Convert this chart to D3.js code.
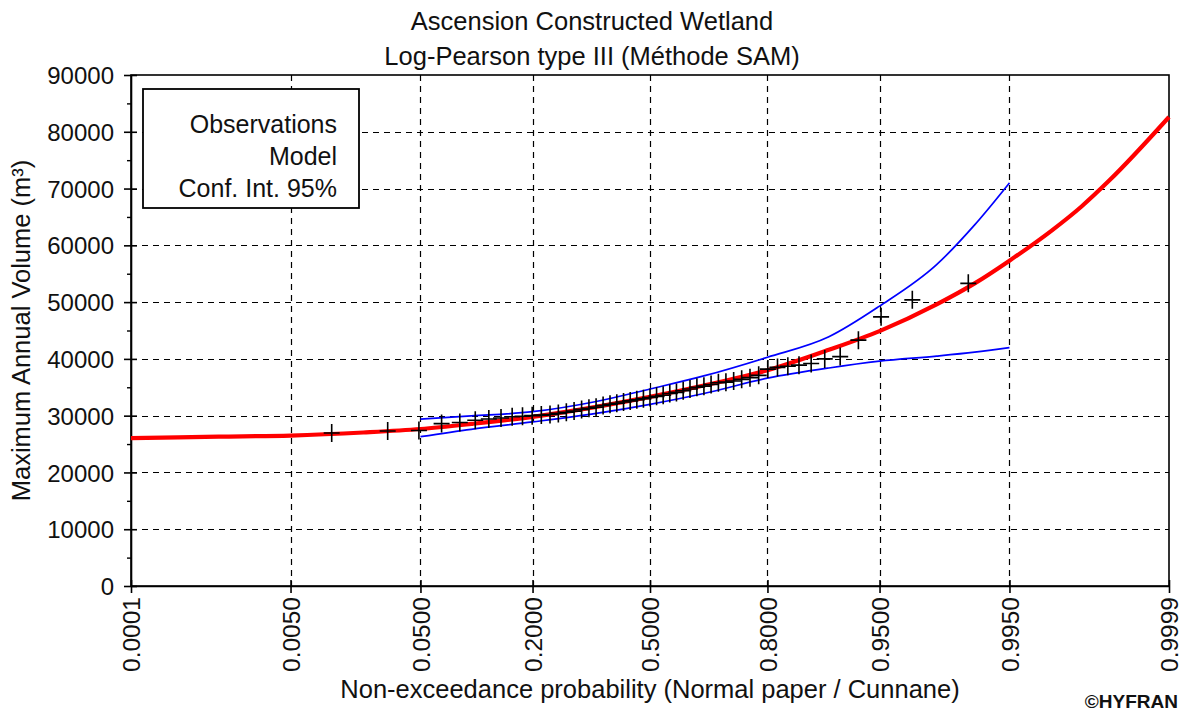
<!DOCTYPE html>
<html>
<head>
<meta charset="utf-8">
<script src="https://cdn.jsdelivr.net/npm/d3@7"></script>
<style>
  html, body { margin: 0; padding: 0; background: #fff; }
  svg { display: block; }
  text { font-family: "Liberation Sans", Arial, sans-serif; fill: #111; }
</style>
</head>
<body>
<svg id="chart" width="1185" height="714"></svg>
<script>
// ---------------- data ----------------
const titleLines = ["Ascension Constructed Wetland", "Log-Pearson type III (Méthode SAM)"];
const xAxisTitle = "Non-exceedance probability (Normal paper / Cunnane)";
const yAxisTitle = "Maximum Annual Volume (m³)";
const legendLabels = ["Observations", "Model", "Conf. Int. 95%"];

const xTickProbs = [0.0001, 0.005, 0.05, 0.2, 0.5, 0.8, 0.95, 0.995, 0.9999];
const xTickLabels = ["0.0001", "0.0050", "0.0500", "0.2000", "0.5000", "0.8000", "0.9500", "0.9950", "0.9999"];
const yTickValues = [0, 10000, 20000, 30000, 40000, 50000, 60000, 70000, 80000, 90000];

// fitted model (Log-Pearson III)
const modelProb  = [0.0001, 0.001, 0.005, 0.02, 0.05, 0.1, 0.2, 0.35, 0.5, 0.65, 0.8, 0.9, 0.95, 0.98, 0.99, 0.995, 0.998, 0.999, 0.9995, 0.9999];
const modelValue = [26050, 26300, 26500, 27040, 27650, 28540, 29800, 31550, 33300, 35300, 38000, 41600, 44900, 49600, 53300, 57300, 62600, 66800, 71400, 82600];

// 95% confidence interval
const ciProb  = [0.05, 0.1, 0.2, 0.35, 0.5, 0.65, 0.8, 0.9, 0.95, 0.98, 0.99, 0.995];
const ciUpper = [29400, 29950, 30700, 32500, 34700, 37000, 40300, 43900, 49300, 56600, 63600, 71000];
const ciLower = [26300, 27600, 28900, 30400, 32000, 33900, 36600, 38400, 39600, 40500, 41200, 42000];

// observations, sorted (m3)
const obsValues = [26950, 27300, 27400, 28600, 28800, 29200, 29400, 29600, 29800, 29900,
                   30000, 30100, 30200, 30400, 30600, 30800, 31100, 31300, 31500, 31800,
                   32000, 32200, 32400, 32600, 32800, 33000, 33200, 33400, 33600, 33900,
                   34100, 34400, 34700, 35000, 35200, 35500, 35800, 35900, 36100, 36400,
                   36700, 37100, 38200, 38500, 38700, 38900, 39200, 40000, 40400, 43300,
                   47400, 50400, 53300];

// ---------------- helpers ----------------
// inverse standard normal CDF (normal probability paper)
function qnorm(p) {
  const a = [-3.969683028665376e+01, 2.209460984245205e+02, -2.759285104469687e+02, 1.383577518672690e+02, -3.066479806614716e+01, 2.506628277459239e+00];
  const b = [-5.447609879822406e+01, 1.615858368580409e+02, -1.556989798598866e+02, 6.680131188771972e+01, -1.328068155288572e+01];
  const c = [-7.784894002430293e-03, -3.223964580411365e-01, -2.400758277161838e+00, -2.549732539343734e+00, 4.374664141464968e+00, 2.938163982698783e+00];
  const d = [7.784695709041462e-03, 3.224671290700398e-01, 2.445134137142996e+00, 3.754408661907416e+00];
  const pl = 0.02425;
  if (p < pl) {
    const q = Math.sqrt(-2 * Math.log(p));
    return (((((c[0]*q+c[1])*q+c[2])*q+c[3])*q+c[4])*q+c[5]) / ((((d[0]*q+d[1])*q+d[2])*q+d[3])*q+1);
  }
  if (p > 1 - pl) {
    const q = Math.sqrt(-2 * Math.log(1 - p));
    return -(((((c[0]*q+c[1])*q+c[2])*q+c[3])*q+c[4])*q+c[5]) / ((((d[0]*q+d[1])*q+d[2])*q+d[3])*q+1);
  }
  const q = p - 0.5, r = q * q;
  return (((((a[0]*r+a[1])*r+a[2])*r+a[3])*r+a[4])*r+a[5])*q / (((((b[0]*r+b[1])*r+b[2])*r+b[3])*r+b[4])*r+1);
}

// ---------------- layout ----------------
const W = 1185, H = 714;
const plot = { left: 131, top: 75, right: 1169, bottom: 586 };

const svg = d3.select("#chart");

const xz = d3.scaleLinear()
  .domain([qnorm(xTickProbs[0]), qnorm(xTickProbs[xTickProbs.length - 1])])
  .range([plot.left, plot.right]);
const xp = p => xz(qnorm(p));
const y = d3.scaleLinear().domain([0, 90000]).range([plot.bottom, plot.top]);

// grid
const grid = svg.append("g").attr("stroke", "#000").attr("stroke-width", 1.2).attr("stroke-dasharray", "6,5");
grid.selectAll("line.gx").data(xTickProbs.slice(1, -1)).join("line")
  .attr("x1", d => Math.round(xp(d)) + 0.5).attr("x2", d => Math.round(xp(d)) + 0.5)
  .attr("y1", plot.top).attr("y2", plot.bottom);
grid.selectAll("line.gy").data(yTickValues.slice(1, -1)).join("line")
  .attr("x1", plot.left).attr("x2", plot.right)
  .attr("y1", d => Math.round(y(d)) + 0.5).attr("y2", d => Math.round(y(d)) + 0.5);

// frame
svg.append("rect")
  .attr("x", plot.left).attr("y", plot.top)
  .attr("width", plot.right - plot.left).attr("height", plot.bottom - plot.top)
  .attr("fill", "none").attr("stroke", "#000").attr("stroke-width", 1.6);

// axes
const xAxis = d3.axisBottom(xz)
  .tickValues(xTickProbs.map(qnorm))
  .tickFormat((d, i) => xTickLabels[i])
  .tickSizeInner(7).tickSizeOuter(0);
const gx = svg.append("g").attr("transform", `translate(0,${plot.bottom})`).call(xAxis);
gx.select(".domain").attr("stroke", "#000").attr("stroke-width", 1.6);
gx.selectAll(".tick line").attr("y1", -6).attr("stroke", "#000").attr("stroke-width", 1.6);
gx.selectAll(".tick text")
  .attr("transform", "rotate(-90)")
  .attr("x", -11).attr("y", 0).attr("dy", "0.36em")
  .attr("text-anchor", "end")
  .style("font-size", "24.5px")
  .style("font-family", "\"Liberation Sans\", Arial, sans-serif")
  .attr("fill", "#111");

const yAxis = d3.axisLeft(y).tickValues(yTickValues).tickFormat(d3.format("d"))
  .tickSizeInner(7).tickSizeOuter(0);
const gy = svg.append("g").attr("transform", `translate(${plot.left},0)`).call(yAxis);
gy.select(".domain").attr("stroke", "#000").attr("stroke-width", 1.6);
gy.selectAll(".tick line").attr("x1", 6).attr("stroke", "#000").attr("stroke-width", 1.6);
gy.selectAll(".tick text")
  .attr("x", -17).attr("dy", "0.36em")
  .style("font-size", "24px")
  .style("font-family", "\"Liberation Sans\", Arial, sans-serif")
  .attr("fill", "#111");

// minor y ticks
const yMinor = d3.axisLeft(y).tickValues(yTickValues.slice(0, -1).map(v => v + 5000))
  .tickFormat("").tickSizeInner(4).tickSizeOuter(0);
const gyMinor = svg.append("g").attr("transform", `translate(${plot.left},0)`).call(yMinor);
gyMinor.select(".domain").remove();
gyMinor.selectAll(".tick line").attr("stroke", "#000").attr("stroke-width", 1.4);

// confidence interval
const ciData = ciProb.map((p, i) => ({ p, up: ciUpper[i], lo: ciLower[i] }));
const lineUp = d3.line().x(d => xp(d.p)).y(d => y(d.up)).curve(d3.curveMonotoneX);
const lineLo = d3.line().x(d => xp(d.p)).y(d => y(d.lo)).curve(d3.curveMonotoneX);
svg.append("path").datum(ciData).attr("d", lineUp)
  .attr("fill", "none").attr("stroke", "#0000ff").attr("stroke-width", 1.7);
svg.append("path").datum(ciData).attr("d", lineLo)
  .attr("fill", "none").attr("stroke", "#0000ff").attr("stroke-width", 1.7);

// model
const modelData = modelProb.map((p, i) => ({ p, v: modelValue[i] }));
svg.append("path").datum(modelData)
  .attr("d", d3.line().x(d => xp(d.p)).y(d => y(d.v)).curve(d3.curveMonotoneX))
  .attr("fill", "none").attr("stroke", "#ff0000").attr("stroke-width", 4.2);

// observations (Cunnane plotting positions)
const n = obsValues.length;
const obsData = obsValues.map((v, i) => ({ p: (i + 1 - 0.4) / (n + 0.2), v }));
svg.append("g").selectAll("path").data(obsData).join("path")
  .attr("transform", d => `translate(${xp(d.p)},${y(d.v)})`)
  .attr("d", "M-8,0H8M0,-9V9")
  .attr("stroke", "#000").attr("stroke-width", 1.6).attr("fill", "none");

// legend
const lg = svg.append("g");
lg.append("rect").attr("x", 143).attr("y", 89).attr("width", 216).attr("height", 119)
  .attr("fill", "#fff").attr("stroke", "#000").attr("stroke-width", 1.8);
lg.selectAll("text").data(legendLabels).join("text")
  .attr("x", 337).attr("y", (d, i) => 133 + i * 32)
  .attr("text-anchor", "end").style("font-size", "25px")
  .text(d => d);

// titles
svg.append("g").selectAll("text").data(titleLines).join("text")
  .attr("x", 592).attr("y", (d, i) => 30 + i * 35)
  .attr("text-anchor", "middle").style("font-size", "25.5px")
  .text(d => d);

svg.append("text")
  .attr("x", (plot.left + plot.right) / 2).attr("y", 698)
  .attr("text-anchor", "middle").style("font-size", "25.5px")
  .text(xAxisTitle);

svg.append("text")
  .attr("transform", `translate(30,${(plot.top + plot.bottom) / 2}) rotate(-90)`)
  .attr("text-anchor", "middle").style("font-size", "25.5px")
  .text(yAxisTitle);

svg.append("text")
  .attr("x", 1178).attr("y", 708)
  .attr("text-anchor", "end").style("font-size", "19px").style("font-weight", "bold")
  .text("©HYFRAN");
</script>
</body>
</html>
